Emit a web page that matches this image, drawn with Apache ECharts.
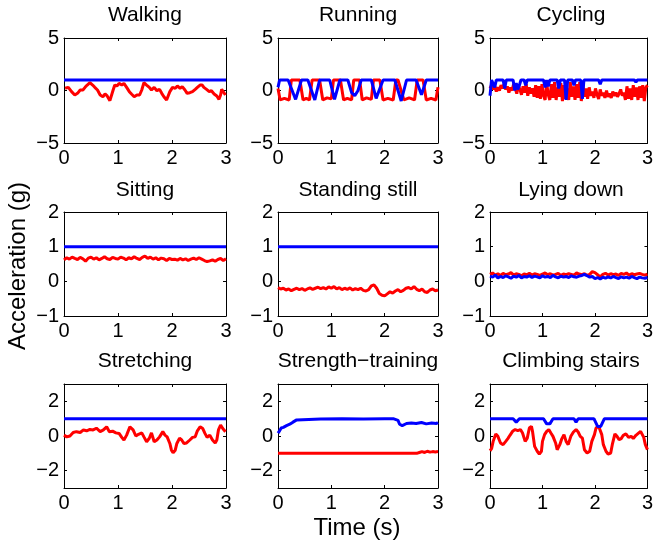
<!DOCTYPE html>
<html>
<head>
<meta charset="utf-8">
<script src="https://cdn.jsdelivr.net/npm/echarts@6/dist/echarts.min.js"></script>
<style>
  html, body { margin: 0; padding: 0; background: #fff; }
  #chart { width: 656px; height: 546px; }
</style>
</head>
<body>
<div id="chart"></div>
<script>
// Activity accelerometer traces: two acceleration components per activity, 3 s windows.
const titles = ['Walking', 'Running', 'Cycling', 'Sitting', 'Standing still', 'Lying down',
  'Stretching', 'Strength\u2212training', 'Climbing stairs'];

const xTicks = [0, 1, 2, 3];
const yRange = [[-5, 5], [-1, 2], [-3, 3]];
const yTicks = [[-5, 0, 5], [-1, 0, 1, 2], [-2, 0, 2]];

// Walking
const walkT = [0.02,0.08,0.14,0.20,0.25,0.30,0.35,0.39,0.43,0.48,0.53,0.57,0.62,0.67,0.72,0.76,0.80,0.85,0.88,0.91,0.94,0.98,1.02,1.07,1.11,1.16,1.21,1.25,1.30,1.35,1.40,1.44,1.48,1.53,1.58,1.62,1.67,1.72,1.77,1.81,1.85,1.90,1.93,1.96,2.01,2.06,2.10,2.15,2.19,2.24,2.28,2.33,2.38,2.43,2.47,2.52,2.56,2.59,2.64,2.69,2.73,2.78,2.83,2.87,2.90,2.92,2.95,2.99];
const walkRed = [0.21,0.30,-0.11,-0.43,-0.27,0.05,0.05,0.30,0.52,0.75,0.52,0.30,0.05,-0.43,-0.59,-0.33,-0.52,-0.97,-0.84,0.05,0.52,0.43,0.68,0.52,0.68,0.30,-0.11,-0.33,-0.59,-0.43,-0.43,0.05,0.75,0.52,0.30,0.05,0.30,-0.02,0.11,-0.27,-0.59,-0.90,-0.75,-0.11,0.30,0.21,0.43,0.21,0.37,0.05,-0.27,-0.21,-0.11,0.11,0.30,0.52,0.52,0.30,0.11,-0.11,-0.02,-0.33,-0.52,-0.84,-0.43,0.11,0.05,-0.43];
const walkBlueT = [0, 0.95, 0.97, 0.99, 2.01, 2.03, 2.05, 3];
const walkBlue = [1, 1, 0.85, 1, 1, 0.85, 1, 1];

// Running
const runRedT = [0,0.04,0.12,0.21,0.25,0.33,0.41,0.47,0.53,0.59,0.64,0.72,0.78,0.84,0.92,1.00,1.04,1.10,1.17,1.23,1.30,1.38,1.42,1.48,1.53,1.58,1.66,1.75,1.79,1.85,1.91,1.97,2.06,2.16,2.21,2.25,2.28,2.36,2.46,2.56,2.61,2.67,2.72,2.78,2.87,2.96,3.0];
const runRed = [0.2,-0.9,-0.75,-0.9,1,1,1,-0.9,-0.75,-0.9,1,1,1,-0.9,-0.7,-0.8,1,1,1,-0.9,-0.75,-0.9,1,1,1,-0.9,-0.7,-0.85,1,1,1,-0.9,-0.75,-0.9,1,1,1,-0.9,-0.7,-0.9,1,1,1,-0.9,-0.75,-0.9,0.3];
const runBlueT = [0,0.03,0.19,0.33,0.44,0.56,0.69,0.78,0.97,1.06,1.16,1.31,1.38,1.44,1.50,1.56,1.75,1.84,1.97,2.19,2.31,2.41,2.59,2.69,2.78,3.0];
const runBlue = [0.3,1,1,-0.85,1,1,-0.9,1,1,-0.85,1,1,-0.2,-0.5,0,1,1,-0.75,1,1,-1.0,1,1,-0.4,1,1];

// Cycling (uniformly sampled over 3 s)
const cycRed = [0.2,0.5,0.1,0.4,-0.1,0.3,0.0,0.5,0.2,0.6,0.1,0.4,-0.2,0.3,0.0,0.6,0.2,-0.3,0.5,0.1,-0.4,0.4,-0.2,0.6,-0.5,0.3,-0.3,0.2,-0.6,0.5,-0.7,0.4,-0.8,0.6,-0.5,-0.9,0.7,-0.4,-0.9,0.6,-0.7,0.8,-0.9,0.3,-0.6,0.7,-1.0,0.5,-0.8,0.2,-0.9,0.8,-0.6,0.4,-0.9,0.6,-0.7,0.8,-1.0,0.5,-0.6,0.2,-0.8,0.3,-0.5,-0.1,-0.7,0.2,-0.4,-0.8,0.1,-0.5,-0.2,-0.7,0.0,-0.6,-0.3,-0.7,-0.1,-0.5,-0.2,-0.6,-0.3,0.1,-0.5,-0.2,-0.9,0.4,-0.8,0.2,-0.9,0.5,-0.6,0.3,-0.9,0.4,-0.7,0.5,-1.0,0.3,0.5];
const cycBlueT = [0,0.03,0.06,0.09,0.12,0.25,0.28,0.31,0.44,0.47,0.50,0.53,0.56,0.59,0.65,0.68,0.71,1.02,1.05,1.08,1.11,1.14,1.28,1.31,1.34,1.42,1.45,1.48,1.57,1.60,1.63,1.73,1.76,1.79,2.07,2.10,2.13,2.75,2.78,2.81,3.0];
const cycBlue = [-0.5,1,1,0.3,1,1,0.2,1,1,0.0,0.7,0.1,0.5,1,1,0.5,1,1,0.3,1,0.4,1,1,0.2,1,1,-0.9,1,1,0.5,1,1,-0.8,1,1,0.6,1,1,0.8,1,1];

// Sitting (uniform)
const sitRed = [0.62,0.68,0.64,0.70,0.66,0.63,0.69,0.65,0.58,0.67,0.70,0.64,0.68,0.62,0.66,0.71,0.65,0.63,0.69,0.66,0.64,0.70,0.67,0.62,0.68,0.65,0.71,0.66,0.63,0.69,0.73,0.66,0.70,0.64,0.68,0.62,0.67,0.65,0.60,0.66,0.63,0.64,0.61,0.66,0.62,0.65,0.60,0.64,0.67,0.63,0.68,0.64,0.60,0.57,0.59,0.62,0.58,0.63,0.66,0.60,0.65];
const sitBlue = [1, 1];

// Standing still (uniform)
const standRed = [-0.18,-0.22,-0.20,-0.25,-0.22,-0.27,-0.23,-0.20,-0.24,-0.21,-0.26,-0.22,-0.19,-0.23,-0.20,-0.17,-0.21,-0.18,-0.22,-0.16,-0.20,-0.15,-0.22,-0.18,-0.24,-0.20,-0.23,-0.19,-0.25,-0.21,-0.24,-0.20,-0.26,-0.28,-0.24,-0.13,-0.10,-0.20,-0.35,-0.40,-0.42,-0.36,-0.30,-0.34,-0.28,-0.24,-0.30,-0.26,-0.20,-0.18,-0.22,-0.15,-0.23,-0.27,-0.22,-0.30,-0.32,-0.25,-0.22,-0.27,-0.25];
const standBlue = [1, 1];

// Lying down (uniform)
const lieRed = [0.20,0.24,0.18,0.22,0.17,0.23,0.19,0.21,0.25,0.18,0.22,0.20,0.16,0.21,0.19,0.23,0.18,0.22,0.20,0.17,0.21,0.24,0.19,0.22,0.18,0.20,0.23,0.17,0.21,0.19,0.22,0.20,0.18,0.24,0.21,0.19,0.22,0.17,0.20,0.28,0.25,0.19,0.13,0.20,0.23,0.18,0.22,0.19,0.21,0.17,0.23,0.20,0.24,0.18,0.22,0.19,0.21,0.23,0.20,0.18,0.21];
const lieBlue = [0.15,0.12,0.18,0.10,0.14,0.11,0.16,0.13,0.09,0.15,0.12,0.17,0.10,0.14,0.12,0.16,0.11,0.15,0.13,0.10,0.16,0.12,0.14,0.11,0.17,0.13,0.10,0.15,0.12,0.14,0.11,0.16,0.13,0.12,0.15,0.17,0.20,0.16,0.12,0.14,0.08,0.11,0.07,0.12,0.09,0.13,0.10,0.14,0.11,0.08,0.13,0.10,0.12,0.09,0.14,0.11,0.08,0.12,0.10,0.09,0.11];

// Stretching
const strT = [0.00,0.05,0.11,0.17,0.23,0.30,0.36,0.42,0.48,0.54,0.60,0.67,0.73,0.79,0.84,0.90,0.96,1.02,1.07,1.11,1.16,1.22,1.28,1.33,1.38,1.44,1.48,1.53,1.58,1.62,1.67,1.72,1.77,1.83,1.87,1.91,1.96,1.99,2.02,2.06,2.09,2.14,2.18,2.22,2.27,2.33,2.38,2.43,2.47,2.52,2.57,2.61,2.65,2.70,2.75,2.80,2.83,2.86,2.90,2.94,2.99];
const strRed = [0.05,-0.05,0,0.2,0.25,0.2,0.35,0.3,0.38,0.35,0.45,0.25,0.35,0.53,0.25,0.28,0.18,0.15,-0.08,-0.23,0.05,0.53,0.35,0,0.1,0.18,-0.05,-0.33,-0.13,0.18,-0.33,-0.23,-0.05,0.25,0.05,-0.05,-0.43,-0.82,-0.97,-0.82,-0.43,-0.13,-0.23,-0.43,-0.4,-0.23,-0.08,-0.05,0.3,0.53,0.43,0.15,-0.08,0.05,-0.23,-0.4,-0.23,0.35,0.63,0.43,0.25];
const strBlueT = [0, 3];
const strBlue = [1, 1];

// Strength-training
const gymRedT = [0,2.60,2.65,2.70,2.75,2.80,2.85,2.90,2.95,3.0];
const gymRed = [-1,-1,-0.95,-0.9,-0.95,-0.88,-0.93,-0.9,-0.92,-0.9];
const gymBlueT = [0,0.03,0.06,0.10,0.13,0.16,0.19,0.22,0.25,0.28,0.31,0.35,0.38,0.8,1.2,1.6,2.0,2.16,2.19,2.25,2.28,2.33,2.41,2.50,2.59,2.69,2.78,2.88,2.97,3.0];
const gymBlue = [0.17,0.3,0.46,0.5,0.56,0.6,0.62,0.68,0.75,0.8,0.85,0.93,1,0.98,1,0.98,1,1,0.95,0.9,0.68,0.6,0.72,0.75,0.72,0.78,0.7,0.75,0.72,0.78];

// Climbing stairs
const climbT = [0,0.03,0.06,0.11,0.15,0.20,0.25,0.30,0.34,0.38,0.43,0.48,0.53,0.58,0.62,0.67,0.71,0.75,0.79,0.81,0.85,0.90,0.94,0.98,1.00,1.04,1.08,1.12,1.16,1.20,1.25,1.28,1.33,1.37,1.41,1.45,1.49,1.54,1.59,1.64,1.68,1.72,1.76,1.80,1.85,1.90,1.94,1.99,2.02,2.07,2.10,2.13,2.16,2.21,2.25,2.30,2.33,2.38,2.42,2.46,2.50,2.54,2.59,2.64,2.69,2.73,2.78,2.83,2.87,2.90,2.93,2.96,3.0];
const climbRed = [-0.85,-0.73,-0.31,0.12,-0.02,-0.4,-0.5,-0.31,-0.15,0.04,0.27,0.37,0.31,0.37,0.17,-0.31,-0.12,0.46,0.56,0.27,-0.6,-0.88,-1.04,-0.88,-0.31,0.08,0.27,0.37,0.17,-0.02,-0.4,-0.79,-0.5,-0.15,0.08,-0.31,-0.5,-0.02,0.23,0.37,0.23,-0.02,-0.12,-0.79,-0.98,-0.88,-0.31,0.08,0.46,0.56,0.46,0.08,-0.5,-0.88,-1.04,-0.98,-0.5,0.12,-0.02,-0.21,-0.15,0.04,0.12,-0.08,-0.02,-0.15,0.04,0.17,0.27,0.17,-0.08,-0.5,-0.79];
const climbBlueT = [0,0.44,0.50,0.56,1.02,1.08,1.11,1.14,1.20,1.60,1.64,1.68,1.98,2.05,2.08,2.11,2.18,3];
const climbBlue = [1,1,0.8,1,1,0.7,0.62,0.7,1,1,0.8,1,1,0.55,0.45,0.55,1,1];

function pairs(ts, vs) { return ts.map((t, i) => [t, vs[i]]); }
function uniform(vs) { return vs.map((v, i) => [i * 3 / (vs.length - 1), v]); }

const panelData = [
  [pairs(walkT, walkRed), pairs(walkBlueT, walkBlue)],
  [pairs(runRedT, runRed), pairs(runBlueT, runBlue)],
  [uniform(cycRed), pairs(cycBlueT, cycBlue)],
  [uniform(sitRed), uniform(sitBlue)],
  [uniform(standRed), uniform(standBlue)],
  [uniform(lieRed), uniform(lieBlue)],
  [pairs(strT, strRed), pairs(strBlueT, strBlue)],
  [pairs(gymRedT, gymRed), pairs(gymBlueT, gymBlue)],
  [pairs(climbT, climbRed), pairs(climbBlueT, climbBlue)]
];

const FONT = '"Liberation Sans", Arial, Helvetica, sans-serif';
const colLeft = [64, 278, 490], colWidth = [162, 160, 162];
const rowTop = [38, 212, 384], rowHeight = [105, 104, 104];
const titleY = [15, 190, 361];

const fmt = v => String(v).replace('-', '\u2212');
const lineBlack = { show: true, onZero: false, lineStyle: { color: '#000', width: 1 } };
const tickIn = { show: true, inside: true, length: 3, lineStyle: { color: '#000', width: 1 } };

const grid = [], xAxis = [], yAxis = [], series = [], graphic = [];
for (let p = 0; p < 9; p++) {
  const r = Math.floor(p / 3), c = p % 3;
  grid.push({ left: colLeft[c], top: rowTop[r], width: colWidth[c], height: rowHeight[r], containLabel: false });
  const [ymin, ymax] = yRange[r];
  const xBase = { type: 'value', gridIndex: p, min: 0, max: 3, interval: 1,
    axisLine: lineBlack, splitLine: { show: false } };
  xAxis.push(Object.assign({}, xBase, { position: 'bottom',
    axisTick: Object.assign({}, tickIn, { customValues: xTicks }),
    axisLabel: { show: true, fontFamily: FONT, fontSize: 20, color: '#000', margin: 5,
      customValues: xTicks, formatter: fmt } }));
  xAxis.push(Object.assign({}, xBase, { position: 'top',
    axisTick: Object.assign({}, tickIn, { customValues: xTicks }), axisLabel: { show: false } }));
  const yBase = { type: 'value', gridIndex: p, min: ymin, max: ymax,
    axisLine: lineBlack, splitLine: { show: false } };
  yAxis.push(Object.assign({}, yBase, { position: 'left',
    axisTick: Object.assign({}, tickIn, { customValues: yTicks[r] }),
    axisLabel: { show: true, fontFamily: FONT, fontSize: 20, color: '#000', margin: 5,
      customValues: yTicks[r], formatter: fmt } }));
  yAxis.push(Object.assign({}, yBase, { position: 'right',
    axisTick: Object.assign({}, tickIn, { customValues: yTicks[r] }), axisLabel: { show: false } }));

  const [red, blue] = panelData[p];
  series.push({ type: 'line', xAxisIndex: 2 * p, yAxisIndex: 2 * p, data: red, showSymbol: false,
    lineStyle: { color: '#ff0000', width: 3 }, itemStyle: { color: '#ff0000' }, clip: true });
  series.push({ type: 'line', xAxisIndex: 2 * p, yAxisIndex: 2 * p, data: blue, showSymbol: false,
    lineStyle: { color: '#0000ff', width: 3 }, itemStyle: { color: '#0000ff' }, clip: true });

  graphic.push({ type: 'text', x: colLeft[c] + colWidth[c] / 2, y: titleY[r],
    style: { text: titles[p], fontFamily: FONT, fontSize: 21, fill: '#000',
      textAlign: 'center', textVerticalAlign: 'middle' } });
}

graphic.push({ type: 'text', x: 18, y: 266, rotation: Math.PI / 2,
  style: { text: 'Acceleration (g)', fontFamily: FONT, fontSize: 24, fill: '#000',
    textAlign: 'center', textVerticalAlign: 'middle' } });
graphic.push({ type: 'text', x: 357, y: 528,
  style: { text: 'Time (s)', fontFamily: FONT, fontSize: 24, fill: '#000',
    textAlign: 'center', textVerticalAlign: 'middle' } });

const chart = echarts.init(document.getElementById('chart'), null, { renderer: 'canvas' });
chart.setOption({ animation: false, backgroundColor: '#fff', grid, xAxis, yAxis, series, graphic });
</script>
</body>
</html>
